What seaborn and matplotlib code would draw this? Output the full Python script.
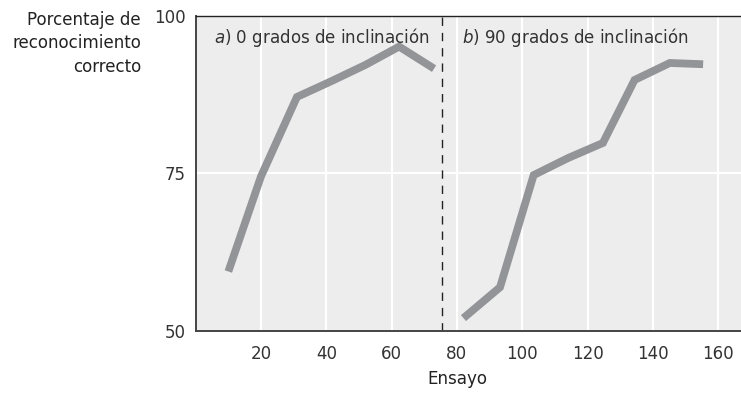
import pandas as pd
import matplotlib.pyplot as plt
import seaborn as sns

# --- datos ---
ensayo_a = [10, 20, 31, 41.5, 52, 62.3, 73]
acierto_a = [59.4, 74.5, 87.1, 89.6, 92.2, 95.1, 91.6]
ensayo_b = [82, 93.2, 103.5, 114, 124.7, 134.4, 145.2, 155.4]
acierto_b = [52.0, 56.9, 74.7, 77.4, 79.8, 89.8, 92.5, 92.3]
xticks = [20, 40, 60, 80, 100, 120, 140, 160]
yticks = [50, 75, 100]
separador = 75.4

df = pd.concat([
    pd.DataFrame({"ensayo": ensayo_a, "acierto": acierto_a, "panel": "a"}),
    pd.DataFrame({"ensayo": ensayo_b, "acierto": acierto_b, "panel": "b"}),
])

sns.set_theme(style="darkgrid")
plt.rcParams["font.family"] = ["DejaVu Sans"]
plt.rcParams["font.stretch"] = "condensed"
texto = "#333333"
tam = 13.3

fig = plt.figure(figsize=(7.41, 3.93), dpi=100)
ax = fig.add_axes([0.2641, 0.1585, 0.7359, 0.8015])
ax.set_facecolor("#ededed")

ax.set_xlim(0, 167)
ax.set_ylim(50, 100)
ax.set_xticks(xticks)
ax.set_yticks(yticks)
ax.grid(True, color="white", linewidth=1.6)
ax.set_axisbelow(True)

sns.lineplot(data=df, x="ensayo", y="acierto", units="panel", estimator=None,
             color="#939498", linewidth=5.6, ax=ax, legend=False,
             solid_capstyle="butt", solid_joinstyle="miter")

ax.axvline(separador, color="#222222", linewidth=1.0, linestyle=(0, (6, 5)))

ax.text(5.6, 95.7, "$\\it{a}$) 0 grados de inclinación", fontsize=tam,
        color=texto, va="baseline", ha="left")
ax.text(81.6, 95.7, "$\\it{b}$) 90 grados de inclinación", fontsize=tam,
        color=texto, va="baseline", ha="left")

for lado in ["left", "bottom"]:
    ax.spines[lado].set_visible(True)
    ax.spines[lado].set_color("#444444")
    ax.spines[lado].set_linewidth(1.4)
ax.spines["top"].set_visible(True)
ax.spines["top"].set_color("#222222")
ax.spines["top"].set_linewidth(1.0)
ax.spines["right"].set_visible(False)

ax.tick_params(axis="x", length=0, pad=10, labelsize=tam, labelcolor=texto)
ax.tick_params(axis="y", length=0, pad=7, labelsize=tam, labelcolor=texto)

ax.set_xlabel("Ensayo", fontsize=tam, color="#222222")
ax.xaxis.set_label_coords(0.479, -0.125)
ax.set_ylabel("")

fig.text(141 / 741, 1 - 11 / 393, "Porcentaje de\nreconocimiento\ncorrecto",
         ha="right", va="top", fontsize=tam, color="#222222",
         linespacing=1.38, multialignment="right")

fig.savefig("out.png", dpi=100)
